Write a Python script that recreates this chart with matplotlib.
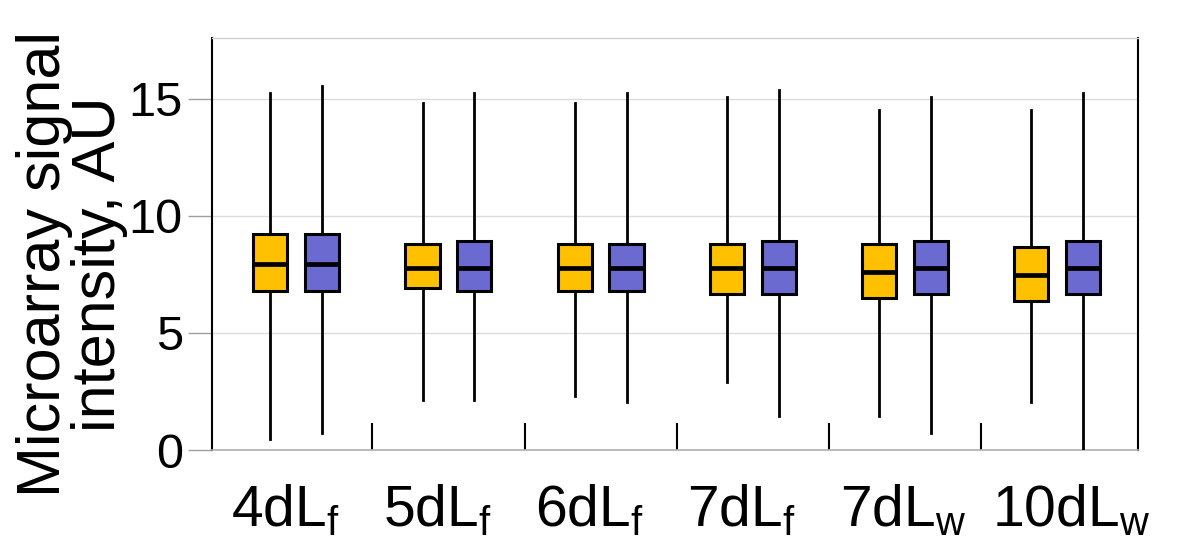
import matplotlib
matplotlib.use('Agg')
import matplotlib.pyplot as plt
import numpy as np

plt.rcParams['font.family'] = ['Liberation Sans', 'DejaVu Sans']
plt.rcParams['mathtext.fontset'] = 'custom'
plt.rcParams['mathtext.rm'] = 'Liberation Sans'
plt.rcParams['mathtext.it'] = 'Liberation Sans:italic'
plt.rcParams['mathtext.bf'] = 'Liberation Sans:bold'

# ---- data ----
categories = [r'4dL$_{\mathrm{f}}$', r'5dL$_{\mathrm{f}}$', r'6dL$_{\mathrm{f}}$',
              r'7dL$_{\mathrm{f}}$', r'7dL$_{\mathrm{w}}$', r'10dL$_{\mathrm{w}}$']

yellow_whislo = [0.47, 2.15, 2.29, 2.92, 1.47, 2.06]
yellow_q1     = [6.79, 6.91, 6.81, 6.67, 6.50, 6.38]
yellow_med    = [7.94, 7.76, 7.76, 7.76, 7.62, 7.48]
yellow_q3     = [9.23, 8.80, 8.80, 8.80, 8.80, 8.66]
yellow_whishi = [15.24, 14.82, 14.82, 15.10, 14.54, 14.54]

blue_whislo = [0.74, 2.15, 2.06, 1.47, 0.74, 0.00]
blue_q1     = [6.79, 6.79, 6.81, 6.67, 6.67, 6.67]
blue_med    = [7.94, 7.76, 7.76, 7.76, 7.76, 7.76]
blue_q3     = [9.23, 8.94, 8.80, 8.94, 8.94, 8.94]
blue_whishi = [15.53, 15.24, 15.24, 15.38, 15.10, 15.24]

y_ticks = [0, 5, 10, 15]

YELLOW = '#FFC000'
BLUE = '#6A6AD0'

fig = plt.figure(figsize=(12, 5.5), dpi=100)
ax = fig.add_axes([212/1200, 100/550, 926/1200, 412/550])

n = len(categories)
centers = np.arange(n)
off = 0.17
width = 0.224


def stats(lo, q1, med, q3, hi):
    return [dict(whislo=a, q1=b, med=c, q3=d, whishi=e, fliers=[])
            for a, b, c, d, e in zip(lo, q1, med, q3, hi)]


common = dict(widths=width, showcaps=False, showfliers=False, patch_artist=True,
              whiskerprops=dict(color='black', linewidth=2.0),
              medianprops=dict(color='black', linewidth=3.4, solid_capstyle='butt'),
              zorder=3)

ax.bxp(stats(yellow_whislo, yellow_q1, yellow_med, yellow_q3, yellow_whishi),
       positions=centers - off,
       boxprops=dict(facecolor=YELLOW, edgecolor='black', linewidth=2.2), **common)
ax.bxp(stats(blue_whislo, blue_q1, blue_med, blue_q3, blue_whishi),
       positions=centers + off,
       boxprops=dict(facecolor=BLUE, edgecolor='black', linewidth=2.2), **common)

ax.set_xlim(-0.553, 5.53)
ax.set_ylim(0, 17.6)

# y axis
ax.set_yticks(y_ticks)
ax.set_yticklabels([str(t) for t in y_ticks])
ax.tick_params(axis='y', length=17, width=1, color='#a0a0a0', pad=4,
               labelsize=35, labelcolor='black')
ax.yaxis.grid(True, color='#dcdcdc', linewidth=1)
ax.set_axisbelow(True)

# x axis labels and separator ticks
ax.set_xticks(centers - 0.43)
ax.set_xticklabels(categories, ha='left')
ax.tick_params(axis='x', which='major', length=0, pad=24, labelsize=41)
ax.set_xticks(np.arange(n - 1) + 0.5, minor=True)
ax.tick_params(axis='x', which='minor', direction='in', length=19.5, width=1.5,
               color='black')

for s in ['left', 'right']:
    ax.spines[s].set_color('black')
    ax.spines[s].set_linewidth(1.5)
ax.spines['top'].set_color('#d0d0d0')
ax.spines['top'].set_linewidth(1)
ax.spines['bottom'].set_color('#b0b0b0')
ax.spines['bottom'].set_linewidth(1.2)

fig.text(72/1200, 1 - 264/550, 'Microarray signal\nintensity, AU',
         rotation=90, ha='center', va='center', multialignment='center',
         fontsize=44, linespacing=0.95)

fig.savefig('out.png', dpi=100)
